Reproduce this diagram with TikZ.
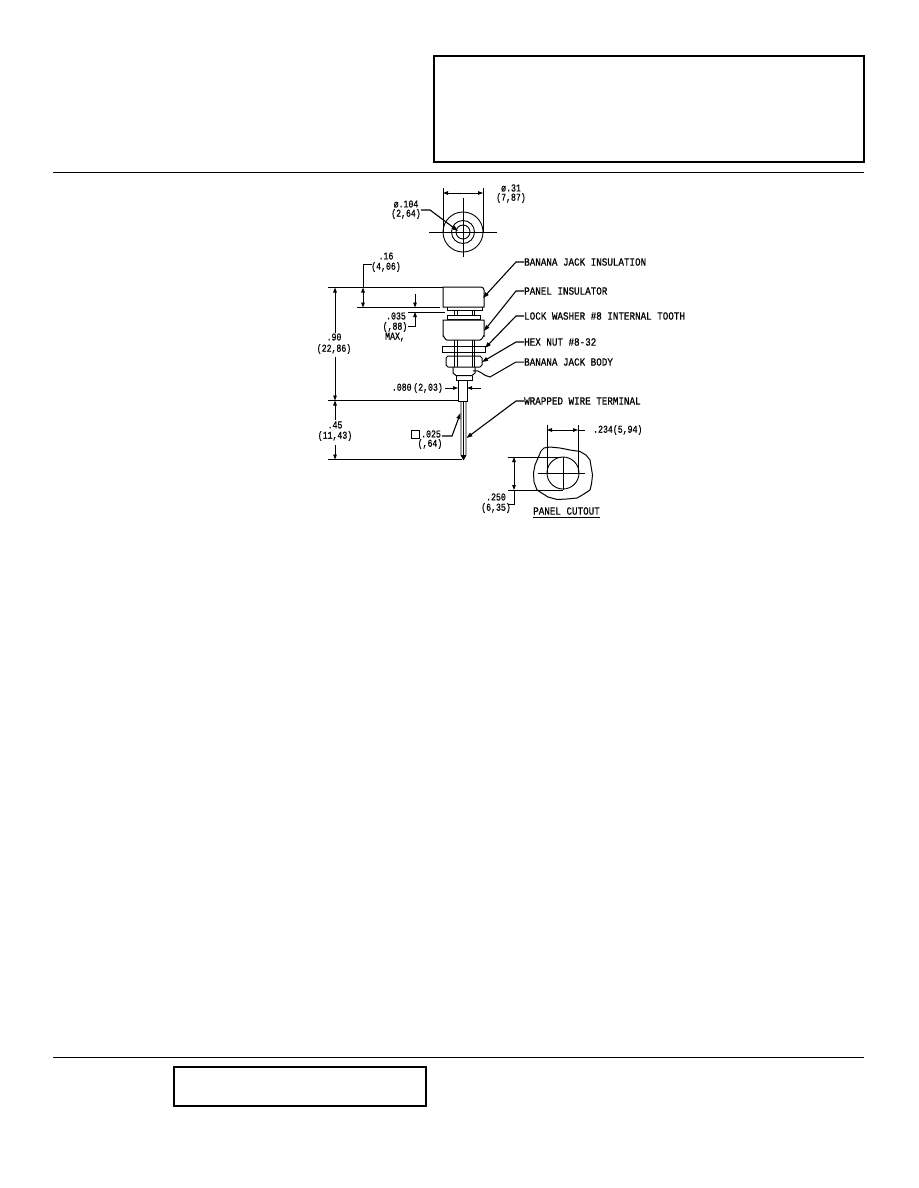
\documentclass[tikz,border=0pt]{standalone}
\usepackage{fontspec}
\usetikzlibrary{arrows.meta}
\newfontfamily\cadlab[FakeStretch=0.84,FakeBold=0.6]{Liberation Mono}
\newfontfamily\caddim[FakeStretch=0.78,FakeBold=0.6]{Liberation Mono}
\tikzset{
 frame/.style={draw=black,line width=1.3pt},
 rule/.style={draw=black,line width=1pt},
 part/.style={draw=black,line width=1pt},
 thin part/.style={draw=black,line width=0.9pt},
 dimline/.style={draw=black,line width=0.9pt},
 tip/.style={-{Triangle[length=5pt,width=3.6pt]}},
 dbl/.style={{Triangle[length=5pt,width=3.6pt]}-{Triangle[length=5pt,width=3.6pt]}},
 lead/.style={draw=black,line width=1.1pt,-{Triangle[length=6pt,width=4pt]}},
 lab/.style={inner sep=0pt,anchor=west,text=black,font=\cadlab\fontsize{11}{11}\selectfont},
 dimtxt/.style={inner sep=0pt,anchor=center,text=black,font=\caddim\fontsize{10.5}{11}\selectfont},
}
\begin{document}
\begin{tikzpicture}[x=1pt,y=-1pt]
\useasboundingbox (0,0) rectangle (918,1188);
\fill[white] (0,0) rectangle (918,1188);
% frames and rules
\path[frame] (434,56) rectangle (864,162);
\path[rule] (53,172.5) -- (864,172.5);
\path[rule] (53,1057.5) -- (864,1057.5);
\path[frame] (174,1067) rectangle (426,1106);
% top view
\path[thin part] (463,232) circle (20);
\path[thin part] (463,232) circle (11.5);
\path[thin part] (463,232) circle (7);
\path[dimline] (429,232) -- (497,232);
\path[dimline] (463,198) -- (463,257);
\path[dimline] (443,188) -- (443,232);
\path[dimline] (483,188) -- (483,232);
\coordinate (dL) at (443,193); \coordinate (dR) at (483,193);
\draw[dimline,dbl] (dL) -- (dR);
\node[dimtxt] (d31) at (511,188) {ø.31};
\node[dimtxt] (d787) at (511,198) {(7,87)};
\node[dimtxt] (d104) at (406,204) {ø.104};
\node[dimtxt] (d264) at (406,214) {(2,64)};
\coordinate (t104) at (458,231);
\draw[lead] (421,210) -- (430,210) -- (t104);
% jack body
\path[part] (443,287) -- (481,287) to[out=0,in=90] (484,290) -- (484,307) -- (443,307) -- cycle;
\path[part] (447,307) -- (447,310) -- (482,310) -- (482,307);
\path[thin part] (454,310) -- (454,315) (457,310) -- (457,315) (472,310) -- (472,315) (474.5,310) -- (474.5,315);
\path[part] (447,315) rectangle (480,319.5);
\path[part] (443,320) -- (484,320) -- (484,336) to[out=90,in=0] (480,340) -- (447,340) to[out=180,in=90] (443,336) -- cycle;
\path[thin part] (454,340) -- (454,367) (457,340) -- (457,367) (472,340) -- (472,367) (474.5,340) -- (474.5,367);
\path[part] (442,346) rectangle (485,352);
\path[part] (448,356) -- (480,356) -- (482,358) -- (482,365) -- (480,367) -- (448,367) -- (446,365) -- (446,358) -- cycle;
\path[part] (453,367) -- (453,373) -- (456,375.5) -- (472,375.5) -- (475,373) -- (475,367);
\path[thin part] (456,375.5) -- (456,380) -- (472,380) -- (472,375.5);
\path[part] (458,380) -- (458,401) -- (467,401) -- (467,380);
\path[thin part] (461,401) -- (461,455) -- (463.5,459.5) -- (466,455) -- (466,401);
\path[thin part] (463.5,401) -- (463.5,455);
\fill (461,455) -- (466,455) -- (463.5,460) -- cycle;
% dimensions left
\path[dimline] (328,287.5) -- (443,287.5);
\path[dimline] (357,307.5) -- (440,307.5);
\path[dimline] (408,312) -- (445,312);
\path[dimline] (328,400.5) -- (458,400.5);
\path[dimline] (328,459.5) -- (462,459.5);
\node[dimtxt] (d16) at (386,256) {.16};
\node[dimtxt] (d406) at (386,267) {(4,06)};
\coordinate (a16) at (363,307.5); \coordinate (a16t) at (363,287.5);
\draw[dimline,dbl] (a16t) -- (a16);
\path[dimline] (372,264) -- (363,264) -- (a16t);
\node[dimtxt] (d035) at (396,316) {.035};
\node[dimtxt] (d88) at (395,327) {(,88)};
\node[dimtxt] (dmax) at (395,337) {MAX,};
\coordinate (a35a) at (415,307.5); \coordinate (a35b) at (415,312);
\draw[dimline,tip] (415,294) -- (a35a);
\draw[dimline,tip] (408,326) -- (415,326) -- (a35b);
\node[dimtxt] (d90) at (334,337) {.90};
\node[dimtxt] (d2286) at (334,349) {(22,86)};
\coordinate (a90t) at (335,287.5); \coordinate (a90b) at (335,400.5); \coordinate (a45b) at (335,459.5);
\draw[dimline,tip] (335,333) -- (a90t);
\draw[dimline,tip] (335,357) -- (a90b);
\draw[dimline,tip] (335,420) -- (a90b);
\draw[dimline,tip] (335,445) -- (a45b);
\node[dimtxt] (d45) at (335,425) {.45};
\node[dimtxt] (d1143) at (335,436) {(11,43)};
\node[dimtxt,anchor=east] (d080) at (443,388) {.080\,(2,03)};
\coordinate (a80l) at (458,388); \coordinate (a80r) at (467,388);
\draw[dimline,tip] (d080.east) ++(2,0) -- (a80l);
\draw[dimline,tip] (481,388) -- (a80r);
\node[draw=black,line width=0.7pt,minimum size=8pt,inner sep=0pt] (sq) at (415,434) {};
\node[dimtxt,anchor=west] (d025) at (421,434) {.025};
\node[dimtxt] (d64) at (430,444) {(,64)};
\coordinate (t025) at (460.5,413);
\draw[lead] (442,436) -- (452,436) -- (t025);
% leaders right
\node[lab] (l1) at (524,262) {BANANA JACK INSULATION};
\node[lab] (l2) at (524,291) {PANEL INSULATOR};
\node[lab] (l3) at (524,316) {LOCK WASHER \#8 INTERNAL TOOTH};
\node[lab] (l4) at (524,342) {HEX NUT \#8-32};
\node[lab] (l5) at (524,362) {BANANA JACK BODY};
\node[lab] (l6) at (524,401) {WRAPPED WIRE TERMINAL};
\coordinate (t1) at (483,298); \coordinate (t2) at (484,331); \coordinate (t3) at (485,348);
\coordinate (t4) at (482,362); \coordinate (t5) at (473,371); \coordinate (t6) at (466.5,438);
\draw[lead] (l1.west) -- (516,262) -- (t1);
\draw[lead] (l2.west) -- (516,291) -- (t2);
\draw[lead] (l3.west) -- (516,316) -- (t3);
\draw[lead] (l4.west) -- (516,342) -- (t4);
\path[part] (l5.west) -- (516,362) -- (490,377) to[out=175,in=20] (t5);
\draw[lead] (l6.west) -- (516,401) -- (t6);
% panel cutout (irregular hole outline)
\path[part] (541,451) -- (544,448) -- (550,447) -- (560,448) -- (570,450) -- (580,451.5) -- (586,455) -- (590,460) -- (591,466) -- (592.5,475) -- (591.5,484) -- (590,490) -- (584,494) -- (577,498) -- (567,499) -- (557,499.5) -- (548,497) -- (537,490) -- (534,482) -- (533.5,473) -- (535,465) -- (538,458) -- cycle;
\path[thin part] (563,473) circle (16);
\path[dimline] (538,473) -- (585,473);
\path[dimline] (563,457) -- (563,490);
\path[dimline] (547,425) -- (547,473);
\path[dimline] (578,425) -- (578,473);
\coordinate (c1) at (547,430); \coordinate (c2) at (578,430);
\draw[dimline,dbl] (c1) -- (c2);
\path[dimline] (c2) -- (585,430);
\node[dimtxt,anchor=west] (d234) at (593,430) {.234(5,94)};
\path[dimline] (508,457) -- (561,457);
\path[dimline] (508,490) -- (563,490);
\coordinate (c3) at (514,457); \coordinate (c4) at (514,490);
\draw[dimline,dbl] (c3) -- (c4);
\path[dimline] (c4) -- (514,504) -- (508,504);
\node[dimtxt] (d250) at (496,497) {.250};
\node[dimtxt] (d635) at (496,508) {(6,35)};
\node[lab,anchor=center] (pc) at (566.5,511) {PANEL CUTOUT};
\draw[line width=1pt] (pc.west |- 0,517) -- (pc.east |- 0,517);
\end{tikzpicture}
\end{document}
